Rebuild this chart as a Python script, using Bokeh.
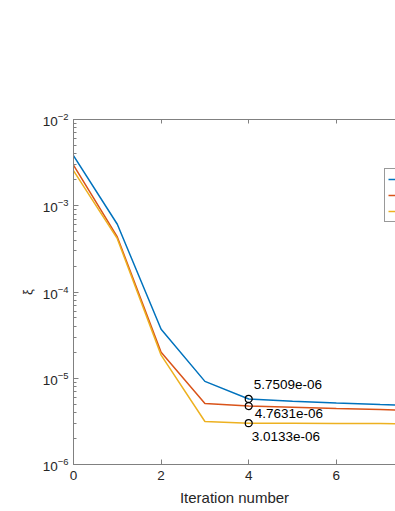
from bokeh.plotting import figure
from bokeh.models import (LinearAxis, Legend, LegendItem, ColumnDataSource,
                          FixedTicker, Range1d)
from bokeh.core.properties import value
from bokeh.embed import file_html
from bokeh.resources import INLINE

# ---- data ----
iterations = [0, 1, 2, 3, 4, 5, 6, 7, 8]
series_a = [3.8e-3, 6.1e-4, 3.7e-5, 9.2e-6, 5.7509e-6, 5.4e-6, 5.15e-6, 4.95e-6, 4.8e-6]
series_b = [2.95e-3, 4.35e-4, 2.0e-5, 5.1e-6, 4.7631e-6, 4.6e-6, 4.45e-6, 4.33e-6, 4.2e-6]
series_c = [2.55e-3, 4.15e-4, 1.85e-5, 3.15e-6, 3.0133e-6, 3.0e-6, 2.99e-6, 2.98e-6, 2.97e-6]
series_names = [" ", " ", " "]
marked_x = [4, 4, 4]
marked_y = [5.7509e-6, 4.7631e-6, 3.0133e-6]
marked_text = ["5.7509e-06", "4.7631e-06", "3.0133e-06"]
x_ticks = [0, 2, 4, 6, 8]

colors = ["#0072BD", "#D95319", "#EDB120"]
FONT = "Liberation Sans"
AX = "#808080"
TXT = "#262626"

p = figure(width=395, height=511, output_backend="svg", toolbar_location=None,
           y_axis_type="log", x_range=Range1d(0, 7.35), y_range=Range1d(1e-6, 1e-2),
           min_border_left=73, min_border_right=0, min_border_top=119, min_border_bottom=47,
           x_axis_label="Iteration number", y_axis_label="ξ")
p.outline_line_color = None
p.grid.grid_line_color = None
p.background_fill_color = "white"
p.border_fill_color = "white"

for ax in [p.xaxis[0], p.yaxis[0]]:
    ax.axis_line_color = AX
    ax.major_tick_line_color = AX
    ax.minor_tick_line_color = AX
    ax.major_tick_in = 5
    ax.major_tick_out = 0
    ax.minor_tick_in = 3
    ax.minor_tick_out = 0
    ax.major_label_text_font = FONT
    ax.major_label_text_font_size = "13.5px"
    ax.major_label_text_color = TXT
    ax.axis_label_text_font = FONT
    ax.axis_label_text_font_size = "15px"
    ax.axis_label_text_font_style = "normal"
    ax.axis_label_text_color = TXT

p.xaxis[0].ticker = FixedTicker(ticks=x_ticks)
p.xaxis[0].minor_tick_line_color = None
p.xaxis[0].major_label_standoff = 6
p.xaxis[0].axis_label_standoff = 6
p.yaxis[0].ticker.num_minor_ticks = 10
p.yaxis[0].major_label_standoff = 5
p.yaxis[0].axis_label_standoff = 5
p.yaxis[0].axis_label_text_font_size = "13px"

top = LinearAxis(ticker=FixedTicker(ticks=x_ticks),
                 major_label_overrides={t: "" for t in x_ticks},
                 axis_line_color=AX, major_tick_line_color=AX, major_tick_in=4,
                 major_tick_out=0, minor_tick_line_color=None)
p.add_layout(top, "above")

renderers = []
for ys, c in zip([series_a, series_b, series_c], colors):
    r = p.line(iterations, ys, line_color=c, line_width=1.5)
    renderers.append(r)

src = ColumnDataSource(dict(x=marked_x, y=marked_y, t=marked_text,
                            dx=[5, 6, 3], dy=[-14, 7, 13]))
p.scatter("x", "y", source=src, marker="circle", size=7, fill_color=None,
          line_color="black", line_width=1.2)
p.text("x", "y", text="t", source=src, x_offset="dx", y_offset="dy",
       text_font=value(FONT), text_font_size="13.5px", text_color="black",
       text_baseline="middle", text_align="left")

legend = Legend(items=[LegendItem(label=n, renderers=[r]) for n, r in zip(series_names, renderers)],
                location=(311, 242), border_line_color="#333333", border_line_width=1,
                label_text_font=FONT, label_text_font_size="12px",
                glyph_width=30, glyph_height=14, label_height=14, label_standoff=5,
                padding=3, spacing=2, margin=0,
                background_fill_color="white")
p.add_layout(legend)

open("out.html", "w").write(file_html(p, INLINE))
